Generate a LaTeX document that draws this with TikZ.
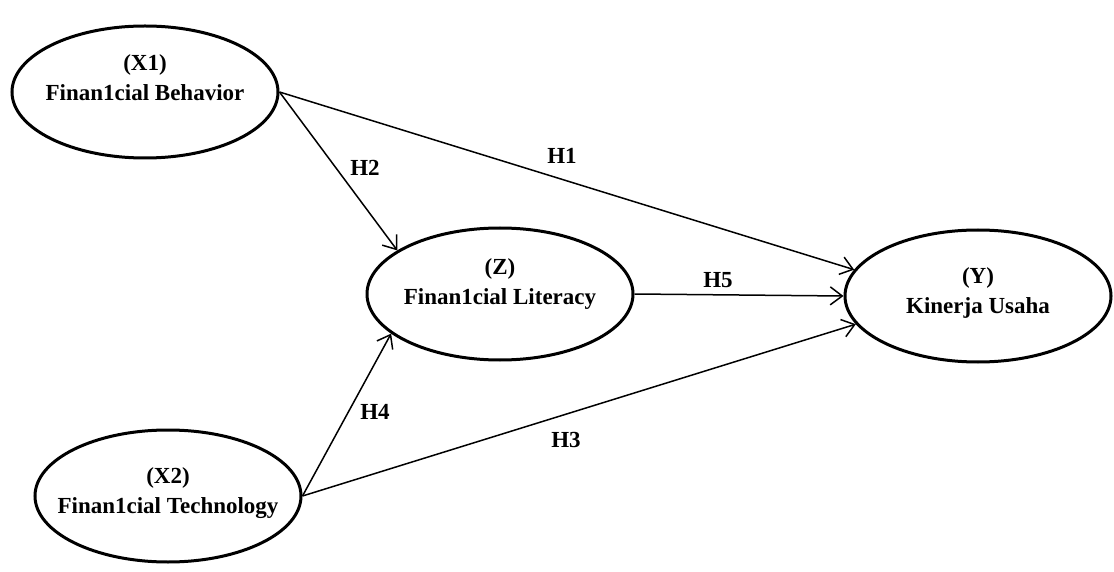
\documentclass[tikz,border=0pt]{standalone}
\usepackage{fontspec}
\setmainfont{Liberation Serif}
\usepackage{tikz}
\usetikzlibrary{arrows.meta, positioning, shapes.geometric}

\begin{document}
\begin{tikzpicture}[
    x=0.5pt, y=-0.5pt,
    construct/.style={ellipse, draw=black, line width=1.5pt, fill=white, minimum width=133pt, minimum height=66pt, inner sep=0pt},
    caption/.style={align=center, inner sep=0pt, font=\fontsize{11.5}{15}\selectfont\bfseries},
    harrow/.style={-{Straight Barb[length=6pt, width=9pt]}, line width=0.75pt},
    hlabel/.style={inner sep=1pt, font=\fontsize{11.5}{15}\selectfont\bfseries}
]
\useasboundingbox (0,0) rectangle (1114,572);

\node[construct] (xone) at (145,92) {};
\node[caption] (xonetext) at (145,78) {(X1)\\Finan1cial Behavior};
\node[construct] (xtwo) at (168,496) {};
\node[caption] (xtwotext) at (168,493) {(X2)\\Finan1cial Technology};
\node[construct] (lit) at (500,294) {};
\node[caption] (littext) at (500,284) {(Z)\\Finan1cial Literacy};
\node[construct] (perf) at (978,296) {};
\node[caption] (perftext) at (978,293) {(Y)\\Kinerja Usaha};

\draw[harrow] (xone.east) -- (perf.168);
\draw[harrow] (xone.east) -- (lit.157);
\draw[harrow] (lit.east) -- (perf.west);
\draw[harrow] (xtwo.east) -- (lit.200);
\draw[harrow] (xtwo.east) -- (perf.193);

\node[hlabel] (hone) at (562,156) {H1};
\node[hlabel] (htwo) at (365,168) {H2};
\node[hlabel] (hfive) at (718,280) {H5};
\node[hlabel] (hfour) at (375,412) {H4};
\node[hlabel] (hthree) at (566,440) {H3};
\end{tikzpicture}
\end{document}
